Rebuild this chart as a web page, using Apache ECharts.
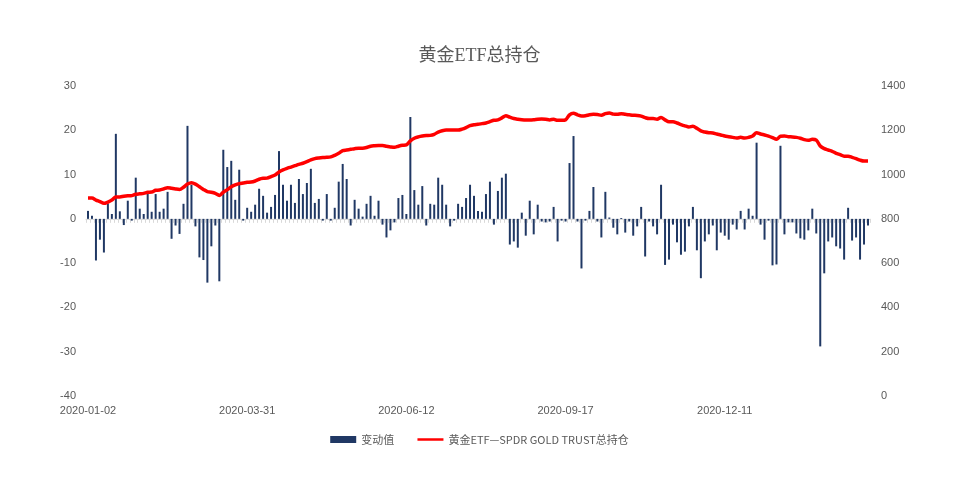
<!DOCTYPE html>
<html>
<head>
<meta charset="utf-8">
<title>黄金ETF总持仓</title>
<script src="https://cdn.jsdelivr.net/npm/echarts@6.0.0/dist/echarts.min.js"></script>
<style>
    html, body { margin: 0; padding: 0; background: #fff; }
    #main { width: 959px; height: 484px; }
</style>
</head>
<body>
<div id="main"></div>
<script>
// 日期锚点（每40个数据点一个刻度标签）
var anchorDates = ['2020-01-02', '2020-03-31', '2020-06-12', '2020-09-17', '2020-12-11', '2021-02-26'];
var anchorIndex = [0, 40, 80, 120, 160, 196];

// 变动值（吨）
var changeValues = [
    1.8, 0.7, -9.4, -4.7, -7.6, 3.5, 1.1, 19.2, 1.7, -1.4, 4.1, -0.4, 9.3, 2.3, 1.1, 5.8, 1.6, 5.6, 1.6, 2.3, 6.1, -4.5, -1.5,
    -3.4, 3.4, 21.0, 7.7, -1.7, -8.7, -9.3, -14.4, -6.2, -1.5, -14.1, 15.6, 11.7, 13.1, 4.3, 11.1, -0.4, 2.5, 1.6, 3.2, 6.8, 5.2, 1.4, 2.7, 5.4,
    15.3, 7.7, 4.1, 7.7, 3.6, 9.0, 5.6, 8.1, 11.3, 3.6, 4.5, -0.4, 5.6, -0.4, 2.5, 8.4, 12.4, 9.0, -1.5, 4.3, 2.3, 0.5, 3.4, 5.2, 0.7,
    4.1, -1.3, -4.2, -2.6, -0.8, 4.7, 5.4, 1.1, 23.0, 6.5, 3.2, 7.4, -1.5, 3.4, 3.2, 9.3, 7.7, 3.2, -1.7, -0.4, 3.4, 2.7, 4.7, 7.7,
    5.2, 1.8, 1.6, 5.6, 8.4, -1.3, 6.3, 9.3, 10.2, -5.8, -5.1, -6.5, 1.4, -3.8, 4.1, -3.5, 3.2, -0.6, -0.8, -0.6, 2.7, -5.1, -0.4, -0.6, 12.6,
    18.7, -0.6, -11.2, -0.4, 1.8, 7.2, -0.6, -4.2, 6.1, 0.3, -2.0, -3.5, 0.2, -3.1, -0.6, -3.8, -1.7, 2.7, -8.5, -0.6, -1.7, -3.5, 7.7, -10.4,
    -9.2, -1.3, -5.3, -8.1, -7.4, -1.7, 2.7, -7.1, -13.4, -5.1, -3.5, -1.5, -7.1, -3.1, -3.8, -4.7, -1.3, -2.4, 1.8, -2.4, 2.3, 0.7, 17.2, -1.3, -4.7,
    -0.4, -10.5, -10.3, 16.5, -3.5, -0.8, -0.8, -3.3, -4.4, -4.7, -2.6, 2.3, -3.3, -28.8, -12.3, -5.1, -4.2, -6.2, -6.7, -9.2, 2.5, -4.9, -4.2, -9.2, -5.8, -1.5
];

// 黄金ETF—SPDR GOLD TRUST总持仓（吨）
var holdValues = [
    894, 894, 885, 878, 870, 876, 885, 899, 899, 902, 904, 905, 911, 913, 915, 920, 921, 929, 930, 935, 941, 938, 935,
    933, 943, 957, 963, 957, 945, 933, 923, 920, 915, 906, 920, 932, 945, 953, 959, 962, 965, 966, 971, 979, 983, 984, 991, 998,
    1012, 1021, 1028, 1034, 1040, 1046, 1051, 1058, 1066, 1072, 1075, 1077, 1078, 1080, 1087, 1096, 1108, 1111, 1114, 1117, 1119, 1119, 1122, 1128, 1130,
    1131, 1131, 1128, 1125, 1123, 1128, 1132, 1134, 1152, 1164, 1170, 1174, 1176, 1177, 1182, 1192, 1198, 1201, 1201, 1201, 1201, 1205, 1212, 1221,
    1225, 1227, 1230, 1233, 1239, 1245, 1247, 1256, 1266, 1259, 1253, 1250, 1248, 1247, 1247, 1248, 1250, 1251, 1250, 1247, 1250, 1245, 1245, 1247, 1270,
    1277, 1270, 1265, 1266, 1270, 1272, 1271, 1268, 1275, 1278, 1273, 1272, 1275, 1272, 1270, 1268, 1267, 1264, 1257, 1253, 1253, 1250, 1258, 1247,
    1238, 1238, 1233, 1226, 1220, 1215, 1218, 1209, 1197, 1192, 1189, 1188, 1183, 1179, 1174, 1171, 1168, 1165, 1168, 1165, 1168, 1174, 1189, 1183, 1179,
    1174, 1167, 1159, 1173, 1174, 1171, 1170, 1168, 1164, 1158, 1155, 1159, 1156, 1129, 1117, 1111, 1105, 1096, 1090, 1083, 1083, 1078, 1072, 1065, 1061, 1061
];

// 在锚点之间补齐日期类目
function buildDates() {
    var res = [];
    for (var k = 0; k < anchorDates.length - 1; k++) {
        var t0 = new Date(anchorDates[k] + 'T00:00:00Z').getTime();
        var t1 = new Date(anchorDates[k + 1] + 'T00:00:00Z').getTime();
        var n = anchorIndex[k + 1] - anchorIndex[k];
        for (var j = 0; j < n; j++) {
            var d = new Date(t0 + (t1 - t0) * j / n);
            res.push(d.toISOString().slice(0, 10));
        }
    }
    res.push(anchorDates[anchorDates.length - 1]);
    return res;
}
var dates = buildDates();

var myChart = echarts.init(document.getElementById('main'));
var labelColor = '#595959';

var option = {
    backgroundColor: '#fff',
    animation: false,
    title: {
        text: '黄金ETF总持仓',
        left: 'center',
        top: 42,
        textStyle: {
            color: labelColor,
            fontSize: 18,
            fontWeight: 'normal',
            fontFamily: "'Liberation Serif', 'Noto Sans CJK SC', serif"
        }
    },
    legend: {
        left: 'center',
        top: 429,
        itemGap: 22,
        itemWidth: 26,
        itemHeight: 7,
        textStyle: { color: labelColor, fontSize: 11, fontFamily: "'Noto Sans CJK SC', sans-serif" },
        data: [
            { name: '变动值', icon: 'rect' },
            {
                name: '黄金ETF—SPDR GOLD TRUST总持仓',
                lineStyle: { width: 2.5 },
                itemStyle: { color: 'rgba(0,0,0,0)', borderWidth: 0 }
            }
        ]
    },
    grid: {
        left: 86,
        right: 89,
        top: 86,
        bottom: 88
    },
    xAxis: [
        {
            type: 'category',
            data: dates,
            position: 'bottom',
            axisLine: { show: false, onZero: false },
            axisTick: { show: false },
            axisLabel: {
                interval: 39,
                color: labelColor,
                fontSize: 11,
                margin: 9,
                fontFamily: "'Liberation Sans', Arial, sans-serif"
            }
        },
        {
            type: 'category',
            data: dates,
            position: 'bottom',
            axisLine: { show: true, onZero: true, onZeroAxisIndex: 0, lineStyle: { color: '#d9d9d9', width: 1 } },
            axisTick: { show: true, interval: 0, length: 4, lineStyle: { color: '#d9d9d9' } },
            axisLabel: { show: false }
        }
    ],
    yAxis: [
        {
            type: 'value',
            min: -40,
            max: 30,
            interval: 10,
            axisLine: { show: false },
            axisTick: { show: false },
            splitLine: { show: false },
            axisLabel: { color: labelColor, fontSize: 11, margin: 10, fontFamily: "'Liberation Sans', Arial, sans-serif" }
        },
        {
            type: 'value',
            min: 0,
            max: 1400,
            interval: 200,
            axisLine: { show: false },
            axisTick: { show: false },
            splitLine: { show: false },
            axisLabel: {
                color: labelColor,
                fontSize: 11,
                margin: 11,
                fontFamily: "'Liberation Sans', Arial, sans-serif",
                formatter: function (v) { return String(v); }
            }
        }
    ],
    series: [
        {
            name: '变动值',
            type: 'bar',
            xAxisIndex: 0,
            yAxisIndex: 0,
            data: changeValues,
            barWidth: 2,
            itemStyle: { color: '#203864' }
        },
        {
            name: '黄金ETF—SPDR GOLD TRUST总持仓',
            type: 'line',
            xAxisIndex: 0,
            yAxisIndex: 1,
            data: holdValues,
            symbol: 'none',
            smooth: 0.3,
            z: 5,
            lineStyle: { color: '#ff0000', width: 3.5 },
            itemStyle: { color: '#ff0000' }
        }
    ]
};

myChart.setOption(option);
window.addEventListener('resize', function () {
    myChart.resize();
});
</script>
</body>
</html>
